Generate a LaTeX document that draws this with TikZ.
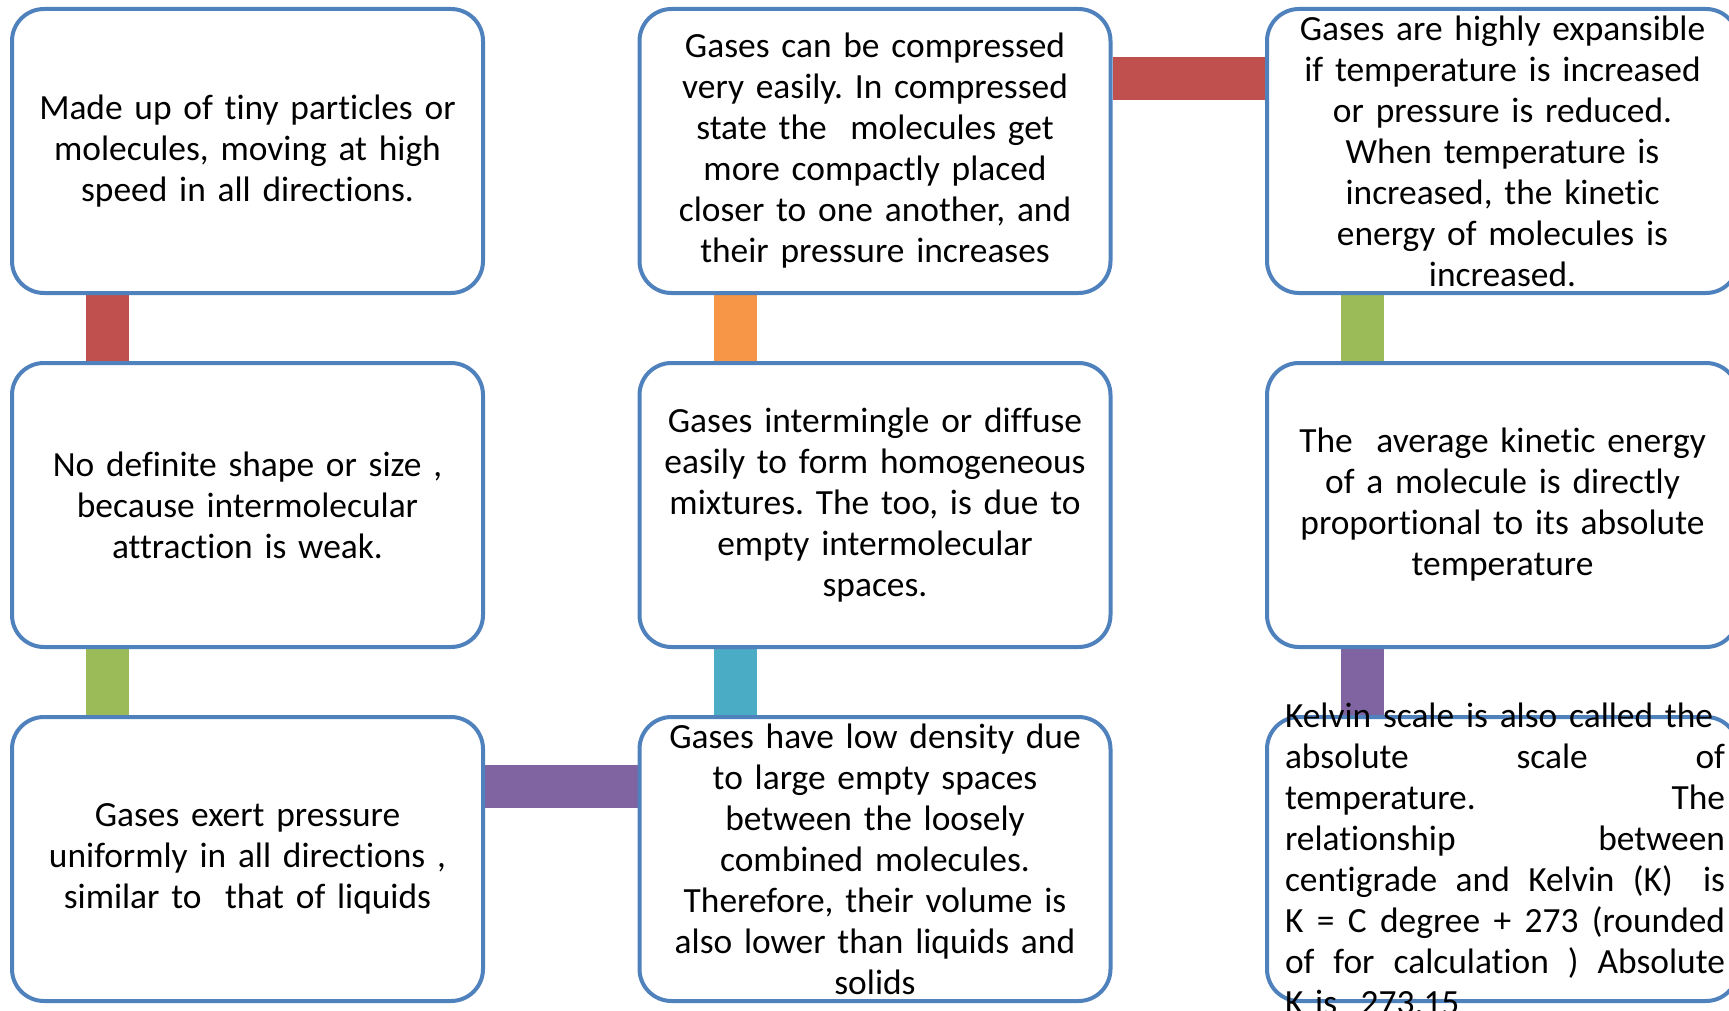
\documentclass[tikz,border=0pt]{standalone}
\usepackage{fontspec}
\setmainfont{Carlito}[Ligatures=NoCommon]
\usetikzlibrary{backgrounds}
\frenchspacing

\definecolor{boxblue}{HTML}{4F81BD}
\definecolor{barred}{HTML}{C0504D}
\definecolor{barorange}{HTML}{F79646}
\definecolor{bargreen}{HTML}{9BBB59}
\definecolor{barteal}{HTML}{4BACC6}
\definecolor{barpurple}{HTML}{8064A2}

\begin{document}
\begin{tikzpicture}[x=0.5pt,y=-0.5pt,
    gasbox/.style={draw=boxblue,line width=2pt,rounded corners=16pt,fill=white,
        minimum width=235.5pt,minimum height=142pt,inner sep=0pt},
    gastext/.style={text width=228pt,align=center,inner sep=0pt,
        font=\fontsize{17.7}{20.5}\selectfont},
    linkbar/.style={line width=21.5pt}]
    \useasboundingbox (0,0) rectangle (1729,1011);

    % The nine boxes, three rows by three columns
    \node[gasbox] (r1c1) at (247.5,151) {};
    \node[gasbox] (r1c2) at (875,151) {};
    \node[gasbox] (r1c3) at (1502.5,151) {};
    \node[gasbox] (r2c1) at (247.5,505) {};
    \node[gasbox] (r2c2) at (875,505) {};
    \node[gasbox] (r2c3) at (1502.5,505) {};
    \node[gasbox] (r3c1) at (247.5,859) {};
    \node[gasbox] (r3c2) at (875,859) {};
    \node[gasbox] (r3c3) at (1502.5,859) {};

    % Box texts
    \node[gastext] (t11) at (r1c1) {Made up of tiny particles or\\ molecules, moving at high\\ speed in all directions.};
    \node[gastext] (t12) at (r1c2) {Gases can be compressed\\ very easily. In compressed\\ state the\ \ molecules get\\ more compactly placed\\ closer to one another, and\\ their pressure increases};
    \node[gastext] (t13) at (r1c3) {Gases are highly expansible\\ if temperature is increased\\ or pressure is reduced.\\ When temperature is\\ increased, the kinetic\\ energy of molecules is\\ increased.};
    \node[gastext] (t21) at (r2c1) {No definite shape or size ,\\ because intermolecular\\ attraction is weak.};
    \node[gastext] (t22) at (r2c2) {Gases intermingle or diffuse\\ easily to form homogeneous\\ mixtures. The too, is due to\\ empty intermolecular\\ spaces.};
    \node[gastext] (t23) at (r2c3) {The\ \ average kinetic energy\\ of a molecule is directly\\ proportional to its absolute\\ temperature};
    \node[gastext] (t31) at (r3c1) {Gases exert pressure\\ uniformly in all directions ,\\ similar to\ \ that of liquids};
    \node[gastext] (t32) at (r3c2) {Gases have low density due\\ to large empty spaces\\ between the loosely\\ combined molecules.\\ Therefore, their volume is\\ also lower than liquids and\\ solids};
    \node[gastext,text width=220pt,align=left] (t33) at ([xshift=1.25pt]r3c3.center) {Kelvin scale is also called the\\
        absolute\hfill scale\hfill of\\
        temperature.\hfill The\\
        relationship\hfill between\\
        centigrade\hfill and\hfill Kelvin\hfill (K)\hfill\ is\\
        K\hfill =\hfill C\hfill degree\hfill +\hfill 273\hfill (rounded\\
        of\hfill for\hfill calculation\hfill )\hfill Absolute\\
        K is\ \ 273.15};

    % Coloured bars behind the boxes
    \begin{scope}[on background layer]
        \foreach \a/\b/\c in {r1c1/r2c1/barred, r1c2/r2c2/barorange, r1c3/r2c3/bargreen,
                              r2c1/r3c1/bargreen, r2c2/r3c2/barteal, r2c3/r3c3/barpurple} {
            \draw[linkbar,\c] ([xshift=-70pt]\a.south) -- ([xshift=-70pt]\b.north);
        }
        \draw[linkbar,barred] ([yshift=36.25pt]r1c2.east) -- ([yshift=36.25pt]r1c3.west);
        \draw[linkbar,barpurple] ([yshift=36.25pt]r3c1.east) -- ([yshift=36.25pt]r3c2.west);
    \end{scope}
\end{tikzpicture}
\end{document}
